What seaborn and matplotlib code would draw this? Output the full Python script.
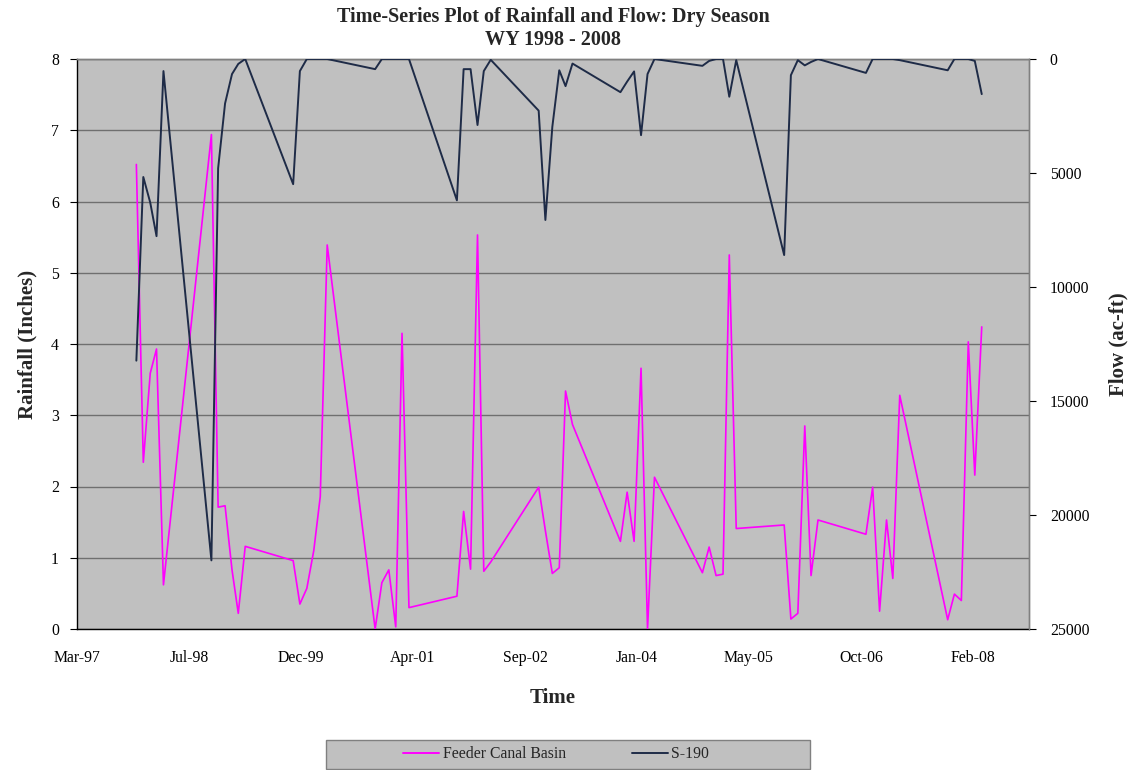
import datetime as dt
import numpy as np
import pandas as pd
import matplotlib
matplotlib.use("Agg")
import matplotlib.pyplot as plt
import matplotlib.dates as mdates
from matplotlib.patches import Rectangle
from matplotlib.lines import Line2D
import seaborn as sns

# ---------------- data ----------------
months = [
    "1997-12", "1998-01", "1998-02", "1998-03", "1998-04",
    "1998-11", "1998-12", "1999-01", "1999-02", "1999-03", "1999-04",
    "1999-11", "1999-12", "2000-01", "2000-02", "2000-03", "2000-04",
    "2000-11", "2000-12", "2001-01", "2001-02", "2001-03", "2001-04",
    "2001-11", "2001-12", "2002-01", "2002-02", "2002-03", "2002-04",
    "2002-11", "2002-12", "2003-01", "2003-02", "2003-03", "2003-04",
    "2003-11", "2003-12", "2004-01", "2004-02", "2004-03", "2004-04",
    "2004-11", "2004-12", "2005-01", "2005-02", "2005-03", "2005-04",
    "2005-11", "2005-12", "2006-01", "2006-02", "2006-03", "2006-04",
    "2006-11", "2006-12", "2007-01", "2007-02", "2007-03", "2007-04",
    "2007-11", "2007-12", "2008-01", "2008-02", "2008-03", "2008-04",
]

rainfall_feeder = [
    6.52, 2.34, 3.59, 3.93, 0.62,
    6.94, 1.71, 1.73, 0.83, 0.22, 1.16,
    0.96, 0.35, 0.57, 1.10, 1.86, 5.39,
    0.00, 0.65, 0.83, 0.03, 4.15, 0.30,
    0.46, 1.65, 0.84, 5.53, 0.81, 0.94,
    1.99, 1.38, 0.78, 0.86, 3.34, 2.87,
    1.23, 1.92, 1.23, 3.66, 0.00, 2.13,
    0.79, 1.15, 0.75, 0.77, 5.25, 1.41,
    1.46, 0.14, 0.22, 2.85, 0.75, 1.53,
    1.33, 1.99, 0.25, 1.53, 0.71, 3.28,
    0.13, 0.49, 0.40, 4.03, 2.16, 4.24,
]

flow_s190 = [
    13230, 5175, 6300, 7770, 530,
    21990, 4795, 1950, 660, 215, 0,
    5490, 530, 0, 0, 0, 0,
    445, 0, 0, 0, 0, 0,
    6200, 445, 445, 2895, 530, 35,
    2265, 7060, 2975, 495, 1190, 200,
    1455, 990, 545, 3340, 660, 0,
    300, 85, 0, 0, 1655, 50,
    8600, 710, 50, 280, 130, 0,
    610, 0, 0, 0, 0, 50,
    495, 0, 0, 0, 85, 1540,
]

series_names = ["Feeder Canal Basin", "S-190"]
title_lines = ["Time-Series Plot of Rainfall and Flow: Dry Season", "WY 1998 - 2008"]
x_label = "Time"
y_left_label = "Rainfall (Inches)"
y_right_label = "Flow (ac-ft)"

df = pd.DataFrame({
    "date": pd.to_datetime([m + "-01" for m in months]),
    "rain": rainfall_feeder,
    "flow": flow_s190,
})

# ---------------- style ----------------
sns.set_style("white")
plt.rcParams["font.family"] = ["Liberation Serif", "DejaVu Serif"]

MAGENTA = "#FF00FF"
NAVY = "#1E2B47"
SILVER = "#C0C0C0"
GRID = "#6F6F6F"

fig = plt.figure(figsize=(11.3, 7.7), dpi=100)
ax = fig.add_axes([77 / 1130, 1 - 629 / 770, (1029 - 77) / 1130, (629 - 59) / 770])
ax.set_facecolor(SILVER)

sns.lineplot(data=df, x="date", y="rain", ax=ax, color=MAGENTA, linewidth=1.2,
             legend=False, zorder=3)
ax2 = ax.twinx()
sns.lineplot(data=df, x="date", y="flow", ax=ax2, color=NAVY, linewidth=1.4,
             legend=False, zorder=3)

# x axis (Excel serial 35500 .. 39750, major 500 days, minor 100 days)
base = dt.datetime(1899, 12, 30)
x0 = mdates.date2num(base + dt.timedelta(days=35500))
x1 = mdates.date2num(base + dt.timedelta(days=39750))
ax.set_xlim(x0, x1)
ax.xaxis.set_major_locator(matplotlib.ticker.FixedLocator(x0 + 500 * np.arange(9)))
ax.xaxis.set_minor_locator(matplotlib.ticker.FixedLocator(x0 + 100 * np.arange(43)))
ax.xaxis.set_major_formatter(mdates.DateFormatter("%b-%y"))

ax.set_ylim(0, 8)
ax.set_yticks(range(0, 9))
ax2.set_ylim(25000, 0)
ax2.set_yticks(range(0, 25001, 5000))

ax.grid(axis="y", color=GRID, linewidth=1.0)
ax.grid(axis="x", visible=False)
ax.set_axisbelow(True)

for a in (ax, ax2):
    a.tick_params(axis="both", which="both", direction="out", labelsize=11.3,
                  colors="black")
ax.tick_params(axis="x", which="major", length=5, width=0.8, pad=10)
ax.tick_params(axis="x", which="minor", length=4, width=0.8)
ax.tick_params(axis="y", length=5, width=0.8, pad=8)
ax2.tick_params(axis="y", length=5, width=0.8, pad=10)

for a in (ax, ax2):
    for s in a.spines.values():
        s.set_color("#808080")
        s.set_linewidth(1.0)
ax.spines["left"].set_color("black")
ax.spines["bottom"].set_color("black")
ax2.spines["left"].set_visible(False)
ax2.spines["bottom"].set_visible(False)

ax.set_xlabel(x_label, fontsize=15, fontweight="bold", labelpad=16)
ax.set_ylabel(y_left_label, fontsize=15, fontweight="bold", labelpad=10)
ax2.set_ylabel(y_right_label, fontsize=15, fontweight="bold", labelpad=14)

fig.text(0.4895, 1 - 17 / 770, title_lines[0], ha="center", va="center",
         fontsize=14.5, fontweight="bold")
fig.text(0.4895, 1 - 40 / 770, title_lines[1], ha="center", va="center",
         fontsize=14.5, fontweight="bold")

# legend box
fig.patches.append(Rectangle((326 / 1130, 1 / 770), (810 - 326) / 1130, 29 / 770,
                             transform=fig.transFigure, facecolor=SILVER,
                             edgecolor="#808080", linewidth=1.0, zorder=0))
handles = [Line2D([], [], color=MAGENTA, linewidth=1.4),
           Line2D([], [], color=NAVY, linewidth=1.4)]
fig.legend(handles, series_names, loc="center", bbox_to_anchor=(0.492, 16 / 770),
           ncol=2, frameon=False, fontsize=11.3, handlelength=2.3,
           handletextpad=0.2, columnspacing=4.2)

fig.savefig("out.png", dpi=100)
